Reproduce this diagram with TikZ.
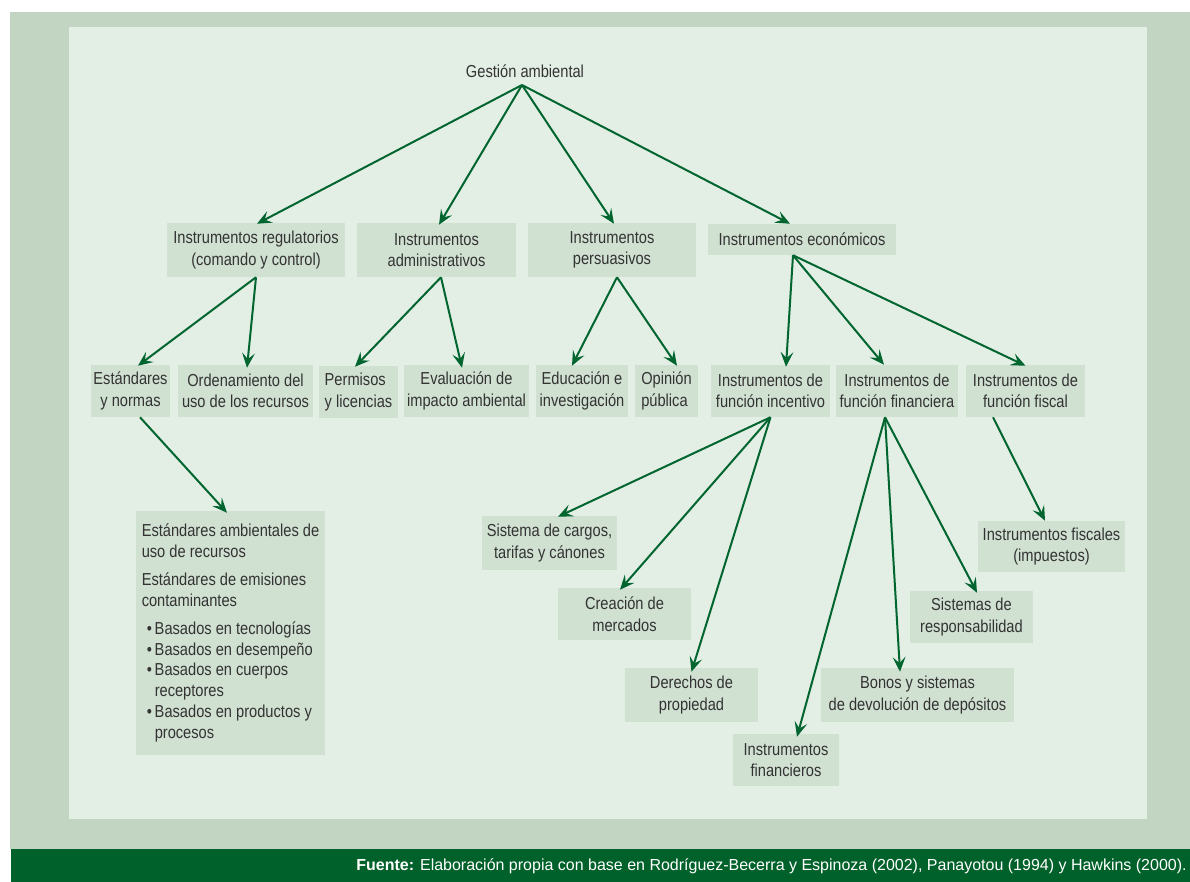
\documentclass[tikz,border=0pt]{standalone}
\usepackage{fontspec}
\setmainfont{Liberation Sans}[FakeStretch=0.845]
\newfontfamily\footfont{Liberation Sans}
\usetikzlibrary{arrows.meta,calc}
\definecolor{outerg}{HTML}{C1D5C2}
\definecolor{innerg}{HTML}{E3EEE4}
\definecolor{boxg}{HTML}{D0E0D1}
\definecolor{arrg}{HTML}{00652F}
\definecolor{barg}{HTML}{00612A}
\definecolor{txt}{HTML}{333333}
\newcommand\bnode[7][]{\node[bx,#1,minimum width={(#5-#3)*0.75pt},minimum height={(#6-#4)*0.75pt}] (#2) at ({(#3+#5)/2},{(#4+#6)/2}) {#7};}
\newcommand\bul{\hspace*{3.75pt}\makebox[6pt][l]{\textbullet}}
\newcommand\bulind{\hspace*{9.75pt}}
\begin{document}
\begin{tikzpicture}[x=0.75pt,y=-0.75pt,
  bx/.style={fill=boxg,inner sep=0pt,align=center,text=txt,font=\fontsize{13}{16.1}\selectfont},
  arr/.style={draw=arrg,line width=1.5pt,-{Stealth[length=11pt,width=9.5pt,inset=4.5pt]}}]
\useasboundingbox (0,0) rectangle (1190,882);
\fill[white] (0,0) rectangle (1190,882);
\fill[outerg] (10,12) rectangle (1190,849);
\fill[barg] (11,849) rectangle (1190,882);
\fill[innerg] (69,27) rectangle (1147,819);

\node[text=txt,font=\fontsize{13}{16.1}\selectfont,inner sep=0pt] (gest) at (525,71) {Gestión ambiental};
\coordinate (gs) at (522,85);

\bnode{reg}{167}{223}{345}{277}{Instrumentos regulatorios\\(comando y control)}
\bnode{adm}{357}{223}{516}{277}{Instrumentos\\administrativos}
\bnode{per}{528}{223}{696}{277}{Instrumentos\\persuasivos}
\bnode{eco}{708}{224}{896}{255}{Instrumentos económicos}

\bnode{std}{91}{365}{170}{417}{Estándares\\y normas}
\bnode{ord}{178}{365}{313}{417}{Ordenamiento del\\uso de los recursos}
\bnode[align=flush left]{perm}{319}{366}{398}{418}{Permisos\\y licencias}
\bnode{eva}{404}{365}{529}{417}{Evaluación de\\impacto ambiental}
\bnode{edu}{536}{365}{628}{417}{Educación e\\investigación}
\bnode[align=flush left]{opi}{635}{365}{698}{417}{Opinión\\pública}
\bnode{inc}{711}{365}{830}{417}{Instrumentos de\\función incentivo}
\bnode{fin}{836}{365}{958}{417}{Instrumentos de\\función financiera}
\bnode{fis}{966}{365}{1085}{417}{Instrumentos de\\función fiscal}

\bnode[align=flush left,font=\fontsize{13}{15.6}\selectfont]{amb}{136}{511}{325}{755}{%
Estándares ambientales de\\uso de recursos\\[5.3pt]
Estándares de emisiones\\contaminantes\\[5.3pt]
\bul Basados en tecnologías\\
\bul Basados en desempeño\\
\bul Basados en cuerpos\\
\bulind receptores\\
\bul Basados en productos y\\
\bulind procesos}

\bnode{car}{482}{516}{617}{570}{Sistema de cargos,\\tarifas y cánones}
\bnode{cre}{558}{588}{691}{640}{Creación de\\mercados}
\bnode{der}{625}{668}{758}{722}{Derechos de\\propiedad}
\bnode{ifin}{733}{734}{839}{786}{Instrumentos\\financieros}
\bnode{bon}{821}{668}{1014}{722}{Bonos y sistemas\\de devolución de depósitos}
\bnode{res}{910}{591}{1033}{643}{Sistemas de\\responsabilidad}
\bnode{ifis}{978}{521}{1125}{572}{Instrumentos fiscales\\(impuestos)}

\draw[arr] (gs) -- ($(reg.north)+(1,1)$);
\draw[arr] (gs) -- ($(adm.north)+(2.5,2)$);
\draw[arr] (gs) -- ($(per.north)+(2,1)$);
\draw[arr] (gs) -- ($(eco.north)+(-12,0)$);

\draw[arr] (reg.south) -- ($(std.north)+(7.5,1)$);
\draw[arr] (reg.south) -- ($(ord.north)+(1.5,3)$);
\draw[arr] ($(adm.south)+(4.5,0)$) -- ($(perm.north)+(-3.5,1)$);
\draw[arr] ($(adm.south)+(4.5,0)$) -- ($(eva.north)+(-4.5,3)$);
\draw[arr] ($(per.south)+(5,0)$) -- ($(edu.north)+(-10,1)$);
\draw[arr] ($(per.south)+(5,0)$) -- ($(opi.north)+(10.5,1)$);
\draw[arr] ($(eco.south)+(-9,0)$) -- ($(inc.north)+(15.5,2)$);
\draw[arr] ($(eco.south)+(-9,0)$) -- ($(fin.north)+(-13,0)$);
\draw[arr] ($(eco.south)+(-9,0)$) -- ($(fis.north)+(0,1)$);

\draw[arr] ($(std.south)+(9.5,0)$) -- ($(amb.north)+(-3.5,2)$);
\draw[arr] (inc.south) -- ($(car.north)+(8.5,1)$);
\draw[arr] (inc.south) -- ($(cre.north)+(-4.5,2)$);
\draw[arr] (inc.south) -- ($(der.north)+(0,4)$);
\draw[arr] ($(fin.south)+(-12,0)$) -- ($(ifin.north)+(11,3)$);
\draw[arr] ($(fin.south)+(-12,0)$) -- ($(bon.north)+(-17.5,4)$);
\draw[arr] ($(fin.south)+(-12,0)$) -- ($(res.north)+(5.5,2)$);
\draw[arr] ($(fis.south)+(-32.5,0)$) -- ($(ifis.north)+(-6.5,0)$);

\node[anchor=east,text=white,inner sep=0pt,font=\footfont\fontsize{12}{14}\selectfont] (src) at (1187,866) {\textbf{Fuente:} Elaboración propia con base en Rodríguez-Becerra y Espinoza (2002), Panayotou (1994) y Hawkins (2000).};
\end{tikzpicture}
\end{document}
